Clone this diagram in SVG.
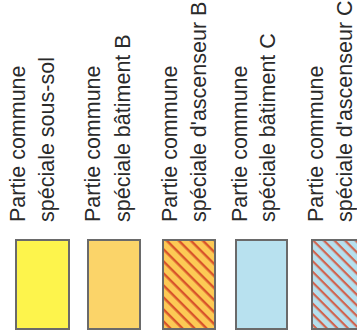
<svg xmlns="http://www.w3.org/2000/svg" width="357" height="335" viewBox="0 0 357 335">
<style>
.t{font-family:"Liberation Sans",Arial,sans-serif;font-size:21.5px;fill:#2a2a2a}
.sw{stroke:#6a6a6a;stroke-width:2}
</style>
<defs>
<pattern id="hOr" patternUnits="userSpaceOnUse" width="8.5" height="8.5" patternTransform="rotate(45)">
<rect width="8.5" height="8.5" fill="#fcc955"/>
<rect y="0" width="8.5" height="2.4" fill="#d8552a"/>
</pattern>
<pattern id="hBl" patternUnits="userSpaceOnUse" width="7.5" height="7.5" patternTransform="rotate(45)">
<rect width="7.5" height="7.5" fill="#b6e0ee"/>
<rect y="0" width="7.5" height="2.2" fill="#d0644f"/>
</pattern>
</defs>
<rect width="357" height="335" fill="#ffffff"/>
<g id="n1">
<text class="t" transform="translate(25,222) rotate(-90)">Partie commune</text>
<text class="t" transform="translate(54,222) rotate(-90)">spéciale sous-sol</text>
<rect class="sw" x="16" y="240" width="53" height="89" fill="#fdf44c"/>
</g>
<g id="n2">
<text class="t" transform="translate(100,222) rotate(-90)">Partie commune</text>
<text class="t" transform="translate(130,222) rotate(-90)">spéciale bâtiment B</text>
<rect class="sw" x="88" y="240" width="52" height="89" fill="#fbd469"/>
</g>
<g id="n3">
<text class="t" transform="translate(177,222) rotate(-90)">Partie commune</text>
<text class="t" transform="translate(206,222) rotate(-90)">spéciale d'ascenseur B</text>
<rect class="sw" x="163" y="240" width="52" height="89" fill="url(#hOr)"/>
</g>
<g id="n4">
<text class="t" transform="translate(247,222) rotate(-90)">Partie commune</text>
<text class="t" transform="translate(275,222) rotate(-90)">spéciale bâtiment C</text>
<rect class="sw" x="236" y="240" width="51" height="89" fill="#b8e1ef"/>
</g>
<g id="n5">
<text class="t" transform="translate(323,222) rotate(-90)">Partie commune</text>
<text class="t" transform="translate(352,222) rotate(-90)">spéciale d'ascenseur C</text>
<rect class="sw" x="312" y="240" width="52" height="89" fill="url(#hBl)"/>
</g>
<g id="connectors"/>
</svg>
